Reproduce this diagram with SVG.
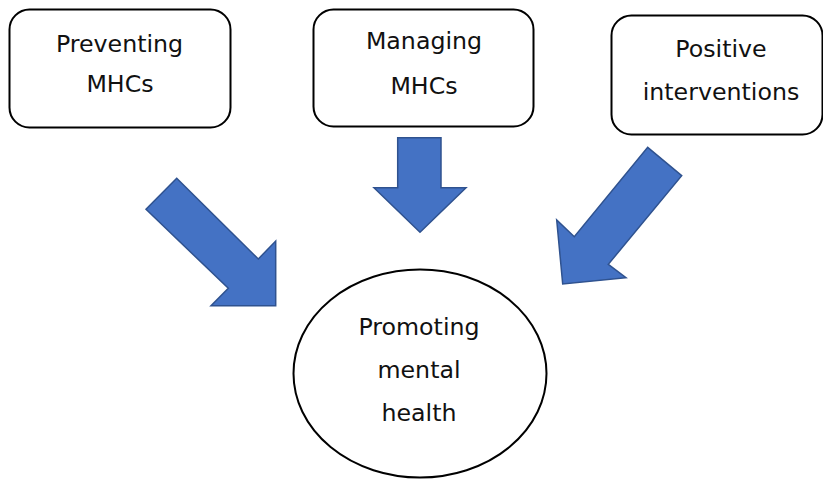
<svg xmlns="http://www.w3.org/2000/svg" width="823" height="479" viewBox="0 0 823 479">
  <style>
    .box { fill: #ffffff; stroke: #000000; stroke-width: 2; }
    .label { font-family: "DejaVu Sans", Verdana, sans-serif; font-size: 23.7px; fill: #111111; text-anchor: middle; }
    .arrow { fill: #4472C4; stroke: #2F528F; stroke-width: 1.5; stroke-linejoin: miter; }
  </style>
  <rect width="823" height="479" fill="#ffffff"/>

  <g id="preventing">
    <rect class="box" x="9.5" y="9.5" width="221" height="118" rx="20" ry="20"/>
    <text class="label" x="119.5" y="52">Preventing</text>
    <text class="label" x="120" y="92">MHCs</text>
  </g>

  <g id="managing">
    <rect class="box" x="313.5" y="9.5" width="220" height="117" rx="20" ry="20"/>
    <text class="label" x="424" y="49">Managing</text>
    <text class="label" x="424" y="94">MHCs</text>
  </g>

  <g id="positive">
    <rect class="box" x="611.5" y="15.5" width="211" height="119" rx="20" ry="20"/>
    <text class="label" x="721" y="57">Positive</text>
    <text class="label" x="721" y="100">interventions</text>
  </g>

  <g id="promoting">
    <ellipse class="box" cx="420" cy="373.5" rx="126.5" ry="104"/>
    <text class="label" x="419" y="335">Promoting</text>
    <text class="label" x="419" y="378">mental</text>
    <text class="label" x="419" y="421">health</text>
  </g>

  <g id="connectors">
    <polygon class="arrow" points="176.7,178.3 258.3,259 275.7,241 275.7,305.7 211,305.7 228.3,288.3 146,209.3"/>
    <polygon class="arrow" points="397.7,137.7 441,137.7 441,187.7 466,187.7 420,232.3 374,187.7 397.7,187.7"/>
    <polygon class="arrow" points="647.7,147.3 681.7,175.7 608.3,264.3 626,277.7 562.7,284 556.7,220 574.3,236.7"/>
  </g>
</svg>
